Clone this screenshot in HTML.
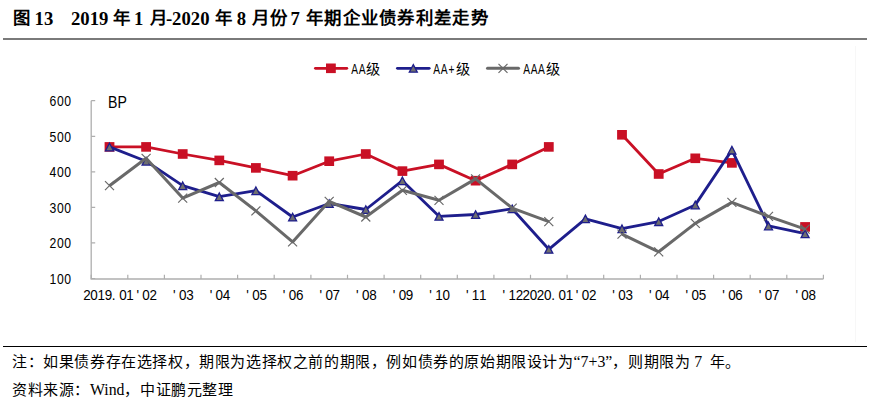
<!DOCTYPE html>
<html lang="zh-CN"><head><meta charset="utf-8">
<style>
html,body{margin:0;padding:0;background:#fff;}
body{width:871px;height:404px;position:relative;overflow:hidden;}
.t{position:absolute;white-space:nowrap;}
.title{top:7.5px;font-family:"Liberation Serif", serif;font-weight:bold;font-size:18.7px;line-height:22px;color:#000;}
.cjkb{font-family:"Liberation Sans", sans-serif;font-weight:bold;font-size:17.4px;position:relative;top:-1px;}
.note{left:12px;font-family:"Liberation Serif", serif;font-size:15px;font-weight:300;letter-spacing:0.6px;line-height:18px;color:#000;}
svg{position:absolute;left:0;top:0;}
.lat{font-size:15.8px;letter-spacing:0;font-weight:400;}
</style></head><body>
<div class="t title" style="left:13.0px"><span class="cjkb">图</span></div>
<div class="t title" style="left:34.6px">13</div>
<div class="t title" style="left:71.0px">2019</div>
<div class="t title" style="left:112.9px"><span class="cjkb">年</span></div>
<div class="t title" style="left:134px">1</div>
<div class="t title" style="left:150px"><span class="cjkb">月</span></div>
<div class="t title" style="left:165.9px">-2020</div>
<div class="t title" style="left:215px"><span class="cjkb">年</span></div>
<div class="t title" style="left:236.8px">8</div>
<div class="t title" style="left:252px"><span class="cjkb" style="letter-spacing:1px">月份</span></div>
<div class="t title" style="left:290.4px">7</div>
<div class="t title" style="left:306px"><span class="cjkb" style="letter-spacing:1.3px">年期企业债券利差走势</span></div>

<div style="position:absolute;left:3px;top:38px;width:864px;height:2px;background:#7A7A7A"></div>
<div style="position:absolute;left:855px;top:46px;width:1px;height:296px;background:#F7F7F7"></div>
<svg width="871" height="404" viewBox="0 0 871 404">
<path d="M91.2,100.69999999999999 L91.2,279.0 L823.4,279.0" fill="none" stroke="#AEAEAE" stroke-width="1.3"/><path d="M91.2,278.5 L95.2,278.5 M91.2,242.9 L95.2,242.9 M91.2,207.4 L95.2,207.4 M91.2,171.8 L95.2,171.8 M91.2,136.3 L95.2,136.3 M91.2,100.7 L95.2,100.7 M91.2,279.0 L91.2,274.8 M127.8,279.0 L127.8,274.8 M164.4,279.0 L164.4,274.8 M201.0,279.0 L201.0,274.8 M237.6,279.0 L237.6,274.8 M274.2,279.0 L274.2,274.8 M310.9,279.0 L310.9,274.8 M347.5,279.0 L347.5,274.8 M384.1,279.0 L384.1,274.8 M420.7,279.0 L420.7,274.8 M457.3,279.0 L457.3,274.8 M493.9,279.0 L493.9,274.8 M530.5,279.0 L530.5,274.8 M567.1,279.0 L567.1,274.8 M603.7,279.0 L603.7,274.8 M640.4,279.0 L640.4,274.8 M677.0,279.0 L677.0,274.8 M713.6,279.0 L713.6,274.8 M750.2,279.0 L750.2,274.8 M786.8,279.0 L786.8,274.8 M823.4,279.0 L823.4,274.8 " fill="none" stroke="#AEAEAE" stroke-width="1.2"/><path d="M109.5,146.9 L146.1,146.9 L182.7,154.0 L219.3,160.4 L255.9,167.9 L292.6,175.7 L329.2,161.2 L365.8,154.0 L402.4,171.1 L439.0,164.4 L475.6,180.7 L512.2,164.4 L548.8,146.9 M622.0,134.8 L658.7,174.0 L695.3,158.3 L731.9,162.9" fill="none" stroke="#C91025" stroke-width="2.8" stroke-linejoin="round"/><rect x="104.6" y="142.1" width="9.8" height="9.6" fill="#C91025"/><rect x="141.2" y="142.1" width="9.8" height="9.6" fill="#C91025"/><rect x="177.8" y="149.2" width="9.8" height="9.6" fill="#C91025"/><rect x="214.4" y="155.6" width="9.8" height="9.6" fill="#C91025"/><rect x="251.0" y="163.1" width="9.8" height="9.6" fill="#C91025"/><rect x="287.7" y="170.9" width="9.8" height="9.6" fill="#C91025"/><rect x="324.3" y="156.4" width="9.8" height="9.6" fill="#C91025"/><rect x="360.9" y="149.2" width="9.8" height="9.6" fill="#C91025"/><rect x="397.5" y="166.3" width="9.8" height="9.6" fill="#C91025"/><rect x="434.1" y="159.6" width="9.8" height="9.6" fill="#C91025"/><rect x="470.7" y="175.9" width="9.8" height="9.6" fill="#C91025"/><rect x="507.3" y="159.6" width="9.8" height="9.6" fill="#C91025"/><rect x="543.9" y="142.1" width="9.8" height="9.6" fill="#C91025"/><rect x="617.1" y="130.0" width="9.8" height="9.6" fill="#C91025"/><rect x="653.8" y="169.2" width="9.8" height="9.6" fill="#C91025"/><rect x="690.4" y="153.5" width="9.8" height="9.6" fill="#C91025"/><rect x="727.0" y="158.1" width="9.8" height="9.6" fill="#C91025"/><rect x="800.2" y="222.1" width="9.8" height="9.6" fill="#C91025"/><path d="M109.5,146.9 L146.1,161.2 L182.7,185.7 L219.3,196.7 L255.9,190.7 L292.6,217.0 L329.2,203.5 L365.8,209.5 L402.4,180.7 L439.0,216.3 L475.6,214.5 L512.2,208.8 L548.8,249.3 L585.4,218.8 L622.0,228.7 L658.7,221.6 L695.3,204.9 L731.9,150.1 L768.5,225.9 L805.1,233.7" fill="none" stroke="#1E1E8C" stroke-width="2.8" stroke-linejoin="round"/><path d="M109.5,143.2 L113.5,150.8 L105.5,150.8 Z" fill="#6F6F6F" stroke="#1E1E8C" stroke-width="1.3" stroke-linejoin="miter"/><path d="M146.1,157.5 L150.1,165.1 L142.1,165.1 Z" fill="#6F6F6F" stroke="#1E1E8C" stroke-width="1.3" stroke-linejoin="miter"/><path d="M182.7,182.0 L186.7,189.6 L178.7,189.6 Z" fill="#6F6F6F" stroke="#1E1E8C" stroke-width="1.3" stroke-linejoin="miter"/><path d="M219.3,193.0 L223.3,200.6 L215.3,200.6 Z" fill="#6F6F6F" stroke="#1E1E8C" stroke-width="1.3" stroke-linejoin="miter"/><path d="M255.9,187.0 L259.9,194.6 L251.9,194.6 Z" fill="#6F6F6F" stroke="#1E1E8C" stroke-width="1.3" stroke-linejoin="miter"/><path d="M292.6,213.3 L296.6,220.9 L288.6,220.9 Z" fill="#6F6F6F" stroke="#1E1E8C" stroke-width="1.3" stroke-linejoin="miter"/><path d="M329.2,199.8 L333.2,207.4 L325.2,207.4 Z" fill="#6F6F6F" stroke="#1E1E8C" stroke-width="1.3" stroke-linejoin="miter"/><path d="M365.8,205.8 L369.8,213.4 L361.8,213.4 Z" fill="#6F6F6F" stroke="#1E1E8C" stroke-width="1.3" stroke-linejoin="miter"/><path d="M402.4,177.0 L406.4,184.6 L398.4,184.6 Z" fill="#6F6F6F" stroke="#1E1E8C" stroke-width="1.3" stroke-linejoin="miter"/><path d="M439.0,212.6 L443.0,220.2 L435.0,220.2 Z" fill="#6F6F6F" stroke="#1E1E8C" stroke-width="1.3" stroke-linejoin="miter"/><path d="M475.6,210.8 L479.6,218.4 L471.6,218.4 Z" fill="#6F6F6F" stroke="#1E1E8C" stroke-width="1.3" stroke-linejoin="miter"/><path d="M512.2,205.1 L516.2,212.7 L508.2,212.7 Z" fill="#6F6F6F" stroke="#1E1E8C" stroke-width="1.3" stroke-linejoin="miter"/><path d="M548.8,245.6 L552.8,253.2 L544.8,253.2 Z" fill="#6F6F6F" stroke="#1E1E8C" stroke-width="1.3" stroke-linejoin="miter"/><path d="M585.4,215.1 L589.4,222.7 L581.4,222.7 Z" fill="#6F6F6F" stroke="#1E1E8C" stroke-width="1.3" stroke-linejoin="miter"/><path d="M622.0,225.0 L626.0,232.6 L618.0,232.6 Z" fill="#6F6F6F" stroke="#1E1E8C" stroke-width="1.3" stroke-linejoin="miter"/><path d="M658.7,217.9 L662.7,225.5 L654.7,225.5 Z" fill="#6F6F6F" stroke="#1E1E8C" stroke-width="1.3" stroke-linejoin="miter"/><path d="M695.3,201.2 L699.3,208.8 L691.3,208.8 Z" fill="#6F6F6F" stroke="#1E1E8C" stroke-width="1.3" stroke-linejoin="miter"/><path d="M731.9,146.4 L735.9,154.0 L727.9,154.0 Z" fill="#6F6F6F" stroke="#1E1E8C" stroke-width="1.3" stroke-linejoin="miter"/><path d="M768.5,222.2 L772.5,229.8 L764.5,229.8 Z" fill="#6F6F6F" stroke="#1E1E8C" stroke-width="1.3" stroke-linejoin="miter"/><path d="M805.1,230.0 L809.1,237.6 L801.1,237.6 Z" fill="#6F6F6F" stroke="#1E1E8C" stroke-width="1.3" stroke-linejoin="miter"/><path d="M109.5,185.7 L146.1,158.3 L182.7,198.1 L219.3,182.5 L255.9,210.9 L292.6,241.9 L329.2,201.3 L365.8,217.0 L402.4,190.3 L439.0,200.3 L475.6,178.9 L512.2,208.1 L548.8,221.6 M622.0,234.1 L658.7,251.8 L695.3,223.4 L731.9,202.4 L768.5,216.3 L805.1,229.1" fill="none" stroke="#696969" stroke-width="3" stroke-linejoin="round"/><path d="M105.0,181.2 L114.0,190.2 M114.0,181.2 L105.0,190.2 M141.6,153.8 L150.6,162.8 M150.6,153.8 L141.6,162.8 M178.2,193.6 L187.2,202.6 M187.2,193.6 L178.2,202.6 M214.8,178.0 L223.8,187.0 M223.8,178.0 L214.8,187.0 M251.4,206.4 L260.4,215.4 M260.4,206.4 L251.4,215.4 M288.1,237.4 L297.1,246.4 M297.1,237.4 L288.1,246.4 M324.7,196.8 L333.7,205.8 M333.7,196.8 L324.7,205.8 M361.3,212.5 L370.3,221.5 M370.3,212.5 L361.3,221.5 M397.9,185.8 L406.9,194.8 M406.9,185.8 L397.9,194.8 M434.5,195.8 L443.5,204.8 M443.5,195.8 L434.5,204.8 M471.1,174.4 L480.1,183.4 M480.1,174.4 L471.1,183.4 M507.7,203.6 L516.7,212.6 M516.7,203.6 L507.7,212.6 M544.3,217.1 L553.3,226.1 M553.3,217.1 L544.3,226.1 M617.5,229.6 L626.5,238.6 M626.5,229.6 L617.5,238.6 M654.2,247.3 L663.2,256.3 M663.2,247.3 L654.2,256.3 M690.8,218.9 L699.8,227.9 M699.8,218.9 L690.8,227.9 M727.4,197.9 L736.4,206.9 M736.4,197.9 L727.4,206.9 M764.0,211.8 L773.0,220.8 M773.0,211.8 L764.0,220.8 M800.6,224.6 L809.6,233.6 M809.6,224.6 L800.6,233.6 " fill="none" stroke="#696969" stroke-width="1.2"/><path d="M315.4,68.3 L346.8,68.3" stroke="#C91025" stroke-width="2.8" stroke-linecap="round"/><rect x="326" y="63.5" width="9.8" height="9.6" fill="#C91025"/><path d="M397.4,68.3 L429.2,68.3" stroke="#1E1E8C" stroke-width="2.8" stroke-linecap="round"/><path d="M413.3,64.6 L417.3,72.2 L409.3,72.2 Z" fill="#6F6F6F" stroke="#1E1E8C" stroke-width="1.3"/><path d="M487.5,68.3 L518.5,68.3" stroke="#696969" stroke-width="3" stroke-linecap="round"/><path d="M498.5,63.8 L507.5,72.8 M507.5,63.8 L498.5,72.8" stroke="#696969" stroke-width="1.2"/>
<text x="61.59" y="284.1" transform="scale(0.86,1)" text-anchor="middle" font-size="14.2" font-family='"Liberation Sans", sans-serif'>1</text><text x="70.11" y="284.1" transform="scale(0.86,1)" text-anchor="middle" font-size="14.2" font-family='"Liberation Sans", sans-serif'>0</text><text x="78.63" y="284.1" transform="scale(0.86,1)" text-anchor="middle" font-size="14.2" font-family='"Liberation Sans", sans-serif'>0</text><text x="61.59" y="248.5" transform="scale(0.86,1)" text-anchor="middle" font-size="14.2" font-family='"Liberation Sans", sans-serif'>2</text><text x="70.11" y="248.5" transform="scale(0.86,1)" text-anchor="middle" font-size="14.2" font-family='"Liberation Sans", sans-serif'>0</text><text x="78.63" y="248.5" transform="scale(0.86,1)" text-anchor="middle" font-size="14.2" font-family='"Liberation Sans", sans-serif'>0</text><text x="61.59" y="213.0" transform="scale(0.86,1)" text-anchor="middle" font-size="14.2" font-family='"Liberation Sans", sans-serif'>3</text><text x="70.11" y="213.0" transform="scale(0.86,1)" text-anchor="middle" font-size="14.2" font-family='"Liberation Sans", sans-serif'>0</text><text x="78.63" y="213.0" transform="scale(0.86,1)" text-anchor="middle" font-size="14.2" font-family='"Liberation Sans", sans-serif'>0</text><text x="61.59" y="177.4" transform="scale(0.86,1)" text-anchor="middle" font-size="14.2" font-family='"Liberation Sans", sans-serif'>4</text><text x="70.11" y="177.4" transform="scale(0.86,1)" text-anchor="middle" font-size="14.2" font-family='"Liberation Sans", sans-serif'>0</text><text x="78.63" y="177.4" transform="scale(0.86,1)" text-anchor="middle" font-size="14.2" font-family='"Liberation Sans", sans-serif'>0</text><text x="61.59" y="141.9" transform="scale(0.86,1)" text-anchor="middle" font-size="14.2" font-family='"Liberation Sans", sans-serif'>5</text><text x="70.11" y="141.9" transform="scale(0.86,1)" text-anchor="middle" font-size="14.2" font-family='"Liberation Sans", sans-serif'>0</text><text x="78.63" y="141.9" transform="scale(0.86,1)" text-anchor="middle" font-size="14.2" font-family='"Liberation Sans", sans-serif'>0</text><text x="61.59" y="106.3" transform="scale(0.86,1)" text-anchor="middle" font-size="14.2" font-family='"Liberation Sans", sans-serif'>6</text><text x="70.11" y="106.3" transform="scale(0.86,1)" text-anchor="middle" font-size="14.2" font-family='"Liberation Sans", sans-serif'>0</text><text x="78.63" y="106.3" transform="scale(0.86,1)" text-anchor="middle" font-size="14.2" font-family='"Liberation Sans", sans-serif'>0</text><text x="108" y="107.6" font-size="16" textLength="18.8" lengthAdjust="spacingAndGlyphs" font-family='"Liberation Sans", sans-serif'>BP</text><text x="97.65" y="300.5" transform="scale(0.89,1)" text-anchor="middle" font-size="15.1" font-family='"Liberation Sans", sans-serif'>2</text><text x="105.74" y="300.5" transform="scale(0.89,1)" text-anchor="middle" font-size="15.1" font-family='"Liberation Sans", sans-serif'>0</text><text x="113.83" y="300.5" transform="scale(0.89,1)" text-anchor="middle" font-size="15.1" font-family='"Liberation Sans", sans-serif'>1</text><text x="121.92" y="300.5" transform="scale(0.89,1)" text-anchor="middle" font-size="15.1" font-family='"Liberation Sans", sans-serif'>9</text><text x="127.76" y="300.5" transform="scale(0.89,1)" text-anchor="middle" font-size="15.1" font-family='"Liberation Sans", sans-serif'>.</text><text x="138.10" y="300.5" transform="scale(0.89,1)" text-anchor="middle" font-size="15.1" font-family='"Liberation Sans", sans-serif'>0</text><text x="146.19" y="300.5" transform="scale(0.89,1)" text-anchor="middle" font-size="15.1" font-family='"Liberation Sans", sans-serif'>1</text><text x="154.74" y="300.5" transform="scale(0.89,1)" text-anchor="middle" font-size="15.1" font-family='"Liberation Sans", sans-serif'>'</text><text x="164.17" y="300.5" transform="scale(0.89,1)" text-anchor="middle" font-size="15.1" font-family='"Liberation Sans", sans-serif'>0</text><text x="172.26" y="300.5" transform="scale(0.89,1)" text-anchor="middle" font-size="15.1" font-family='"Liberation Sans", sans-serif'>2</text><text x="195.87" y="300.5" transform="scale(0.89,1)" text-anchor="middle" font-size="15.1" font-family='"Liberation Sans", sans-serif'>'</text><text x="205.31" y="300.5" transform="scale(0.89,1)" text-anchor="middle" font-size="15.1" font-family='"Liberation Sans", sans-serif'>0</text><text x="213.40" y="300.5" transform="scale(0.89,1)" text-anchor="middle" font-size="15.1" font-family='"Liberation Sans", sans-serif'>3</text><text x="237.01" y="300.5" transform="scale(0.89,1)" text-anchor="middle" font-size="15.1" font-family='"Liberation Sans", sans-serif'>'</text><text x="246.44" y="300.5" transform="scale(0.89,1)" text-anchor="middle" font-size="15.1" font-family='"Liberation Sans", sans-serif'>0</text><text x="254.53" y="300.5" transform="scale(0.89,1)" text-anchor="middle" font-size="15.1" font-family='"Liberation Sans", sans-serif'>4</text><text x="278.14" y="300.5" transform="scale(0.89,1)" text-anchor="middle" font-size="15.1" font-family='"Liberation Sans", sans-serif'>'</text><text x="287.58" y="300.5" transform="scale(0.89,1)" text-anchor="middle" font-size="15.1" font-family='"Liberation Sans", sans-serif'>0</text><text x="295.67" y="300.5" transform="scale(0.89,1)" text-anchor="middle" font-size="15.1" font-family='"Liberation Sans", sans-serif'>5</text><text x="319.28" y="300.5" transform="scale(0.89,1)" text-anchor="middle" font-size="15.1" font-family='"Liberation Sans", sans-serif'>'</text><text x="328.71" y="300.5" transform="scale(0.89,1)" text-anchor="middle" font-size="15.1" font-family='"Liberation Sans", sans-serif'>0</text><text x="336.80" y="300.5" transform="scale(0.89,1)" text-anchor="middle" font-size="15.1" font-family='"Liberation Sans", sans-serif'>6</text><text x="360.41" y="300.5" transform="scale(0.89,1)" text-anchor="middle" font-size="15.1" font-family='"Liberation Sans", sans-serif'>'</text><text x="369.85" y="300.5" transform="scale(0.89,1)" text-anchor="middle" font-size="15.1" font-family='"Liberation Sans", sans-serif'>0</text><text x="377.94" y="300.5" transform="scale(0.89,1)" text-anchor="middle" font-size="15.1" font-family='"Liberation Sans", sans-serif'>7</text><text x="401.54" y="300.5" transform="scale(0.89,1)" text-anchor="middle" font-size="15.1" font-family='"Liberation Sans", sans-serif'>'</text><text x="410.98" y="300.5" transform="scale(0.89,1)" text-anchor="middle" font-size="15.1" font-family='"Liberation Sans", sans-serif'>0</text><text x="419.07" y="300.5" transform="scale(0.89,1)" text-anchor="middle" font-size="15.1" font-family='"Liberation Sans", sans-serif'>8</text><text x="442.68" y="300.5" transform="scale(0.89,1)" text-anchor="middle" font-size="15.1" font-family='"Liberation Sans", sans-serif'>'</text><text x="452.12" y="300.5" transform="scale(0.89,1)" text-anchor="middle" font-size="15.1" font-family='"Liberation Sans", sans-serif'>0</text><text x="460.21" y="300.5" transform="scale(0.89,1)" text-anchor="middle" font-size="15.1" font-family='"Liberation Sans", sans-serif'>9</text><text x="483.81" y="300.5" transform="scale(0.89,1)" text-anchor="middle" font-size="15.1" font-family='"Liberation Sans", sans-serif'>'</text><text x="493.25" y="300.5" transform="scale(0.89,1)" text-anchor="middle" font-size="15.1" font-family='"Liberation Sans", sans-serif'>1</text><text x="501.34" y="300.5" transform="scale(0.89,1)" text-anchor="middle" font-size="15.1" font-family='"Liberation Sans", sans-serif'>0</text><text x="524.95" y="300.5" transform="scale(0.89,1)" text-anchor="middle" font-size="15.1" font-family='"Liberation Sans", sans-serif'>'</text><text x="534.39" y="300.5" transform="scale(0.89,1)" text-anchor="middle" font-size="15.1" font-family='"Liberation Sans", sans-serif'>1</text><text x="542.48" y="300.5" transform="scale(0.89,1)" text-anchor="middle" font-size="15.1" font-family='"Liberation Sans", sans-serif'>1</text><text x="566.08" y="300.5" transform="scale(0.89,1)" text-anchor="middle" font-size="15.1" font-family='"Liberation Sans", sans-serif'>'</text><text x="575.52" y="300.5" transform="scale(0.89,1)" text-anchor="middle" font-size="15.1" font-family='"Liberation Sans", sans-serif'>1</text><text x="583.61" y="300.5" transform="scale(0.89,1)" text-anchor="middle" font-size="15.1" font-family='"Liberation Sans", sans-serif'>2</text><text x="591.26" y="300.5" transform="scale(0.89,1)" text-anchor="middle" font-size="15.1" font-family='"Liberation Sans", sans-serif'>2</text><text x="599.35" y="300.5" transform="scale(0.89,1)" text-anchor="middle" font-size="15.1" font-family='"Liberation Sans", sans-serif'>0</text><text x="607.44" y="300.5" transform="scale(0.89,1)" text-anchor="middle" font-size="15.1" font-family='"Liberation Sans", sans-serif'>2</text><text x="615.53" y="300.5" transform="scale(0.89,1)" text-anchor="middle" font-size="15.1" font-family='"Liberation Sans", sans-serif'>0</text><text x="621.38" y="300.5" transform="scale(0.89,1)" text-anchor="middle" font-size="15.1" font-family='"Liberation Sans", sans-serif'>.</text><text x="631.71" y="300.5" transform="scale(0.89,1)" text-anchor="middle" font-size="15.1" font-family='"Liberation Sans", sans-serif'>0</text><text x="639.80" y="300.5" transform="scale(0.89,1)" text-anchor="middle" font-size="15.1" font-family='"Liberation Sans", sans-serif'>1</text><text x="648.35" y="300.5" transform="scale(0.89,1)" text-anchor="middle" font-size="15.1" font-family='"Liberation Sans", sans-serif'>'</text><text x="657.79" y="300.5" transform="scale(0.89,1)" text-anchor="middle" font-size="15.1" font-family='"Liberation Sans", sans-serif'>0</text><text x="665.88" y="300.5" transform="scale(0.89,1)" text-anchor="middle" font-size="15.1" font-family='"Liberation Sans", sans-serif'>2</text><text x="689.49" y="300.5" transform="scale(0.89,1)" text-anchor="middle" font-size="15.1" font-family='"Liberation Sans", sans-serif'>'</text><text x="698.93" y="300.5" transform="scale(0.89,1)" text-anchor="middle" font-size="15.1" font-family='"Liberation Sans", sans-serif'>0</text><text x="707.02" y="300.5" transform="scale(0.89,1)" text-anchor="middle" font-size="15.1" font-family='"Liberation Sans", sans-serif'>3</text><text x="730.62" y="300.5" transform="scale(0.89,1)" text-anchor="middle" font-size="15.1" font-family='"Liberation Sans", sans-serif'>'</text><text x="740.06" y="300.5" transform="scale(0.89,1)" text-anchor="middle" font-size="15.1" font-family='"Liberation Sans", sans-serif'>0</text><text x="748.15" y="300.5" transform="scale(0.89,1)" text-anchor="middle" font-size="15.1" font-family='"Liberation Sans", sans-serif'>4</text><text x="771.76" y="300.5" transform="scale(0.89,1)" text-anchor="middle" font-size="15.1" font-family='"Liberation Sans", sans-serif'>'</text><text x="781.20" y="300.5" transform="scale(0.89,1)" text-anchor="middle" font-size="15.1" font-family='"Liberation Sans", sans-serif'>0</text><text x="789.29" y="300.5" transform="scale(0.89,1)" text-anchor="middle" font-size="15.1" font-family='"Liberation Sans", sans-serif'>5</text><text x="812.89" y="300.5" transform="scale(0.89,1)" text-anchor="middle" font-size="15.1" font-family='"Liberation Sans", sans-serif'>'</text><text x="822.33" y="300.5" transform="scale(0.89,1)" text-anchor="middle" font-size="15.1" font-family='"Liberation Sans", sans-serif'>0</text><text x="830.42" y="300.5" transform="scale(0.89,1)" text-anchor="middle" font-size="15.1" font-family='"Liberation Sans", sans-serif'>6</text><text x="854.03" y="300.5" transform="scale(0.89,1)" text-anchor="middle" font-size="15.1" font-family='"Liberation Sans", sans-serif'>'</text><text x="863.47" y="300.5" transform="scale(0.89,1)" text-anchor="middle" font-size="15.1" font-family='"Liberation Sans", sans-serif'>0</text><text x="871.56" y="300.5" transform="scale(0.89,1)" text-anchor="middle" font-size="15.1" font-family='"Liberation Sans", sans-serif'>7</text><text x="895.16" y="300.5" transform="scale(0.89,1)" text-anchor="middle" font-size="15.1" font-family='"Liberation Sans", sans-serif'>'</text><text x="904.60" y="300.5" transform="scale(0.89,1)" text-anchor="middle" font-size="15.1" font-family='"Liberation Sans", sans-serif'>0</text><text x="912.69" y="300.5" transform="scale(0.89,1)" text-anchor="middle" font-size="15.1" font-family='"Liberation Sans", sans-serif'>8</text><text x="521.62" y="74" transform="scale(0.68,1)" text-anchor="middle" font-size="15" font-family='"Liberation Sans", sans-serif'>A</text><text x="532.50" y="74" transform="scale(0.68,1)" text-anchor="middle" font-size="15" font-family='"Liberation Sans", sans-serif'>A</text><text x="373.20" y="74" text-anchor="middle" font-size="14.2" font-family='"Liberation Sans", sans-serif'>级</text><text x="642.21" y="74" transform="scale(0.68,1)" text-anchor="middle" font-size="15" font-family='"Liberation Sans", sans-serif'>A</text><text x="653.09" y="74" transform="scale(0.68,1)" text-anchor="middle" font-size="15" font-family='"Liberation Sans", sans-serif'>A</text><text x="663.97" y="74" transform="scale(0.68,1)" text-anchor="middle" font-size="15" font-family='"Liberation Sans", sans-serif'>+</text><text x="462.60" y="74" text-anchor="middle" font-size="14.2" font-family='"Liberation Sans", sans-serif'>级</text><text x="774.56" y="74" transform="scale(0.68,1)" text-anchor="middle" font-size="15" font-family='"Liberation Sans", sans-serif'>A</text><text x="785.44" y="74" transform="scale(0.68,1)" text-anchor="middle" font-size="15" font-family='"Liberation Sans", sans-serif'>A</text><text x="796.32" y="74" transform="scale(0.68,1)" text-anchor="middle" font-size="15" font-family='"Liberation Sans", sans-serif'>A</text><text x="552.60" y="74" text-anchor="middle" font-size="14.2" font-family='"Liberation Sans", sans-serif'>级</text>
</svg>
<div style="position:absolute;left:3px;top:346px;width:864px;height:1px;background:#000"></div>
<div class="t note" style="top:352.8px">注：如果债券存在选择权，期限为选择权之前的期限，例如债券的原始期限设计为<span class="lat">“7+3”</span>，则期限为<span class="lat" style="margin-right:3.5px"> 7 </span>年。</div>
<div class="t note" style="top:380.8px">资料来源：<span class="lat">Wind</span>，中证鹏元整理</div>
</body></html>
